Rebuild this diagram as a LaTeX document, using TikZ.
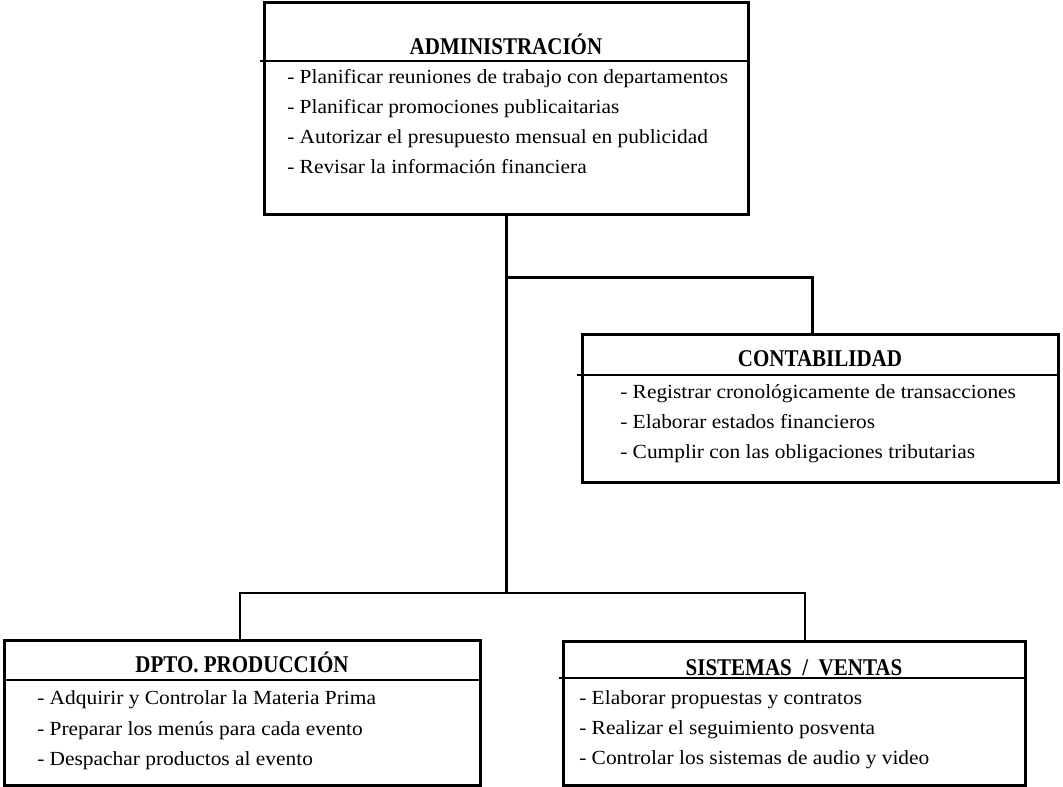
\documentclass[tikz,border=0pt]{standalone}
\usepackage{fontspec}
\setmainfont{Liberation Serif}[FakeStretch=1.07]
\newfontfamily\fuentetitulo{Liberation Serif}[FakeStretch=0.875]
\usetikzlibrary{fit}

\tikzset{
  area/.style={draw, line width=2.25pt, inner sep=0pt},
  titulo/.style={font=\fuentetitulo\bfseries\fontsize{18}{22}\selectfont, inner sep=0pt, anchor=base},
  tarea/.style={font=\fontsize{15}{20}\selectfont, inner sep=0pt, anchor=base west},
  separa/.style={line width=1.1pt},
  tronco/.style={line width=2.25pt},
  rama/.style={line width=1.1pt}
}

\begin{document}
\begin{tikzpicture}[x=0.75pt,y=-0.75pt]
  \useasboundingbox (0,0) rectangle (1063,787);
  % cajas
  \node[area, fit={(264,3) (748,215)}] (adm) {};
  \node[area, fit={(582,335) (1058,482)}] (cont) {};
  \node[area, fit={(4,640) (480,785)}] (prod) {};
  \node[area, fit={(563,641) (1025,785)}] (sist) {};
  % titulos
  \node[titulo] (admT) at (506,55) {ADMINISTRACIÓN};
  \node[titulo] (contT) at (820,367) {CONTABILIDAD};
  \node[titulo] (prodT) at (242,672) {DPTO. PRODUCCIÓN};
  \node[titulo] (sistT) at (794,675) {SISTEMAS \ / \ VENTAS};
  \draw[separa] (260,61) -- (748,61);
  \draw[separa] (577,375) -- (1058,375);
  \draw[separa] (4,680) -- (480,680);
  \draw[separa] (559,678) -- (1025,678);
  % tareas
  \foreach \txt [count=\i] in {- Planificar reuniones de trabajo con departamentos,
      - Planificar promociones publicaitarias,
      - Autorizar el presupuesto mensual en publicidad,
      - Revisar la información financiera}
    \node[tarea] (adm\i) at (287,54+30*\i) {\txt};
  \foreach \txt [count=\i] in {- Registrar cronológicamente de transacciones,
      - Elaborar estados financieros,
      - Cumplir con las obligaciones tributarias}
    \node[tarea] (cont\i) at (620,369+30*\i) {\txt};
  \foreach \txt [count=\i] in {- Adquirir y Controlar la Materia Prima,
      - Preparar los menús para cada evento,
      - Despachar productos al evento}
    \node[tarea] (prod\i) at (37,674+30.5*\i) {\txt};
  \foreach \txt [count=\i] in {- Elaborar propuestas y contratos,
      - Realizar el seguimiento posventa,
      - Controlar los sistemas de audio y video}
    \node[tarea] (sist\i) at (579,674+30*\i) {\txt};
  % conectores
  \coordinate (codo) at (506,278);
  \coordinate (nudo) at (506,593);
  \draw[rama] ([xshift=-1.5pt]prod.north) |- (nudo) -| ([xshift=8.25pt]sist.north);
  \draw[tronco] (adm.south) -- (nudo);
  \draw[tronco] (codo) -| ([xshift=-6pt]cont.north);
\end{tikzpicture}
\end{document}
